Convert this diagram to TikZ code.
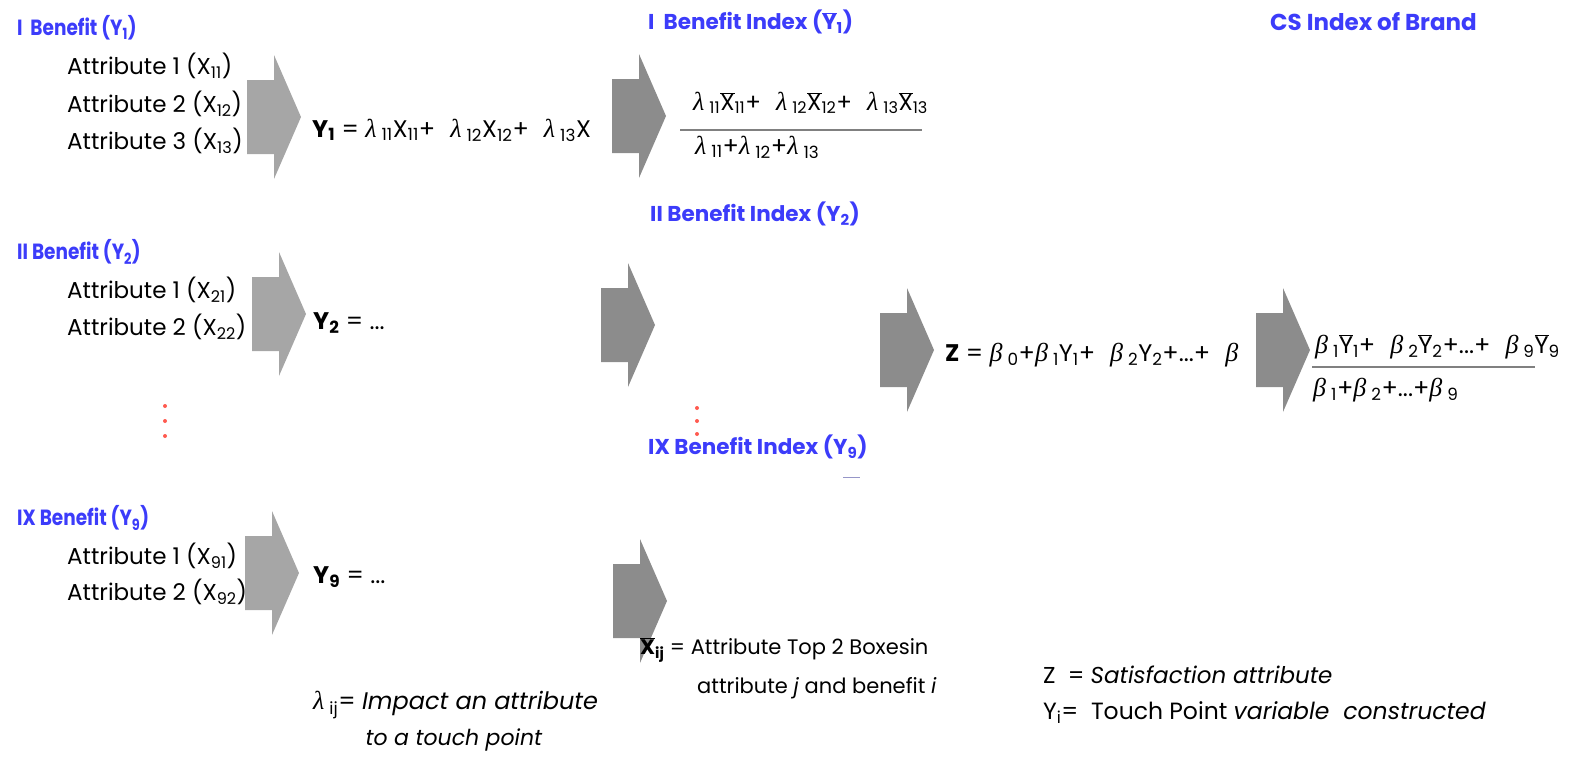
\documentclass[tikz,border=0pt]{standalone}
\usepackage{graphicx}
\usepackage{fontspec}
\setmainfont{Poppins}
\newfontfamily\grk{Liberation Serif}
\definecolor{bl}{RGB}{60,60,250}
\definecolor{lg}{RGB}{166,166,166}
\definecolor{dg}{RGB}{140,140,140}
\definecolor{rd}{RGB}{255,90,80}
\newcommand\sbs[1]{\textsubscript{#1}}
\newcommand\ob[1]{$\overline{\mbox{#1}}$}
\newcommand\lam{{\grk\itshape\fontsize{26}{26}\selectfont λ}\hspace{5pt}}
\newcommand\bet{{\grk\itshape\fontsize{26}{26}\selectfont β}\hspace{5pt}}
\newcommand\gp{\hspace{15pt}}
\newcommand\cond[1]{\scalebox{0.84}[1]{#1}}
\tikzset{
  pics/barrow/.style={code={\fill[#1] (0,-37) -- (27,-37) -- (27,-62) -- (54,0) -- (27,62) -- (27,37) -- (0,37) -- cycle;}},
  txt/.style={anchor=west, inner sep=0pt, font=\fontsize{23}{24}\selectfont},
  form/.style={anchor=west, inner sep=0pt, font=\fontsize{24}{26}\selectfont},
  hd/.style={anchor=west, inner sep=0pt, text=bl, font=\fontsize{22}{24}\selectfont\bfseries},
  hdi/.style={anchor=west, inner sep=0pt, text=bl, font=\fontsize{21.5}{24}\selectfont\bfseries},
  note/.style={anchor=west, inner sep=0pt, font=\fontsize{21}{22}\selectfont},
  fbar/.style={draw=gray, line width=1.5pt},
  rdot/.style={circle, fill=rd, inner sep=0pt, minimum size=4pt}
}
\begin{document}
\begin{tikzpicture}[x=1pt,y=-1pt]
\useasboundingbox (0,0) rectangle (1572,756);
% arrows
\pic at (247,117) {barrow=lg};
\pic at (612,116) {barrow=dg};
\pic at (252,314) {barrow=lg};
\pic at (601,325) {barrow=dg};
\pic at (880,350) {barrow=dg};
\pic at (1256,350) {barrow=dg};
\pic at (245,573) {barrow=lg};
\pic at (613,601) {barrow=dg};
% headings
\node[hd] (b1) at (17,28) {\cond{I\ \ Benefit (Y\sbs{1})}};
\node[hd] (b2) at (17,252) {\cond{II Benefit (Y\sbs{2})}};
\node[hd] (b9) at (17,518) {\cond{IX Benefit (Y\sbs{9})}};
\node[hdi] (i1) at (648,22) {I\ \ Benefit Index (\ob{Y}\sbs{1})};
\node[hdi] (i2) at (650,214) {II Benefit Index (Y\sbs{2})};
\node[hdi] (i9) at (648,447) {IX Benefit Index (Y\sbs{9})};
\node[hdi, font=\fontsize{23}{24}\selectfont\bfseries] (cs) at (1270,22) {CS Index of Brand};
\draw[draw={rgb,255:red,150;green,150;blue,200}, line width=1pt] (843,477) -- (860,477);
% attributes
\node[txt] (a11) at (67,66) {Attribute 1 (X\sbs{11})};
\node[txt] (a12) at (67,104) {Attribute 2 (X\sbs{12})};
\node[txt] (a13) at (67,141) {Attribute 3 (X\sbs{13})};
\node[txt] (a21) at (67,290) {Attribute 1 (X\sbs{21})};
\node[txt] (a22) at (67,327) {Attribute 2 (X\sbs{22})};
\node[txt] (a91) at (67,556) {Attribute 1 (X\sbs{91})};
\node[txt] (a92) at (67,592) {Attribute 2 (X\sbs{92})};
% formulas
\node[form] (y1) at (312,130) {\textbf{Y\sbs{1}} = \lam\sbs{11}X\sbs{11}+\gp\lam\sbs{12}X\sbs{12}+\gp\lam\sbs{13}X};
\node[form] (y2) at (313,323) {\textbf{Y\sbs{2}} = ...};
\node[form] (y9) at (313,577) {\textbf{Y\sbs{9}} = ...};
\node[form, font=\fontsize{23}{26}\selectfont] (n1) at (693,103) {\lam\sbs{11}\ob{X}\sbs{11}+\gp\lam\sbs{12}\ob{X}\sbs{12}+\gp\lam\sbs{13}\ob{X}\sbs{13}};
\draw[fbar] (680,130) -- (922,130);
\node[form] (d1) at (695,147) {\lam\sbs{11}+\lam\sbs{12}+\lam\sbs{13}};
\node[form] (z) at (945,355) {\textbf{Z} = \bet\sbs{0}+\bet\sbs{1}Y\sbs{1}+\gp\bet\sbs{2}Y\sbs{2}+...+\gp\bet};
\node[form] (n2) at (1315,347) {\bet\sbs{1}\ob{Y}\sbs{1}+\gp\bet\sbs{2}\ob{Y}\sbs{2}+...+\gp\bet\sbs{9}\ob{Y}\sbs{9}};
\draw[fbar] (1312,367) -- (1535,367);
\node[form] (d2) at (1313,390) {\bet\sbs{1}+\bet\sbs{2}+...+\bet\sbs{9}};
% dots
\foreach \yy in {406,421,436} \node[rdot] at (165,\yy) {};
\foreach \yy in {408,421,434} \node[rdot] at (697,\yy) {};
% notes
\node[note] (xij) at (640,650) {\textbf{\ob{X}\sbs{ij}} = Attribute Top 2 Boxesin};
\node[note] (xij2) at (697,688) {attribute \textit{j} and benefit \textit{i}};
\node[form, font=\fontsize{24}{26}\selectfont] (lam) at (313,705) {\lam\sbs{ij}= \textit{Impact an attribute}};
\node[form, font=\fontsize{22}{24}\selectfont, anchor=center] (lam2) at (454,740) {\textit{to a touch point}};
\node[form, font=\fontsize{23}{24}\selectfont] (zz) at (1043,675) {Z\ \ = \textit{Satisfaction attribute}};
\node[form, font=\fontsize{23.5}{24}\selectfont] (yy) at (1043,713) {Y\sbs{i}=\ \ Touch Point \textit{variable\ \ constructed}};
\end{tikzpicture}
\end{document}
